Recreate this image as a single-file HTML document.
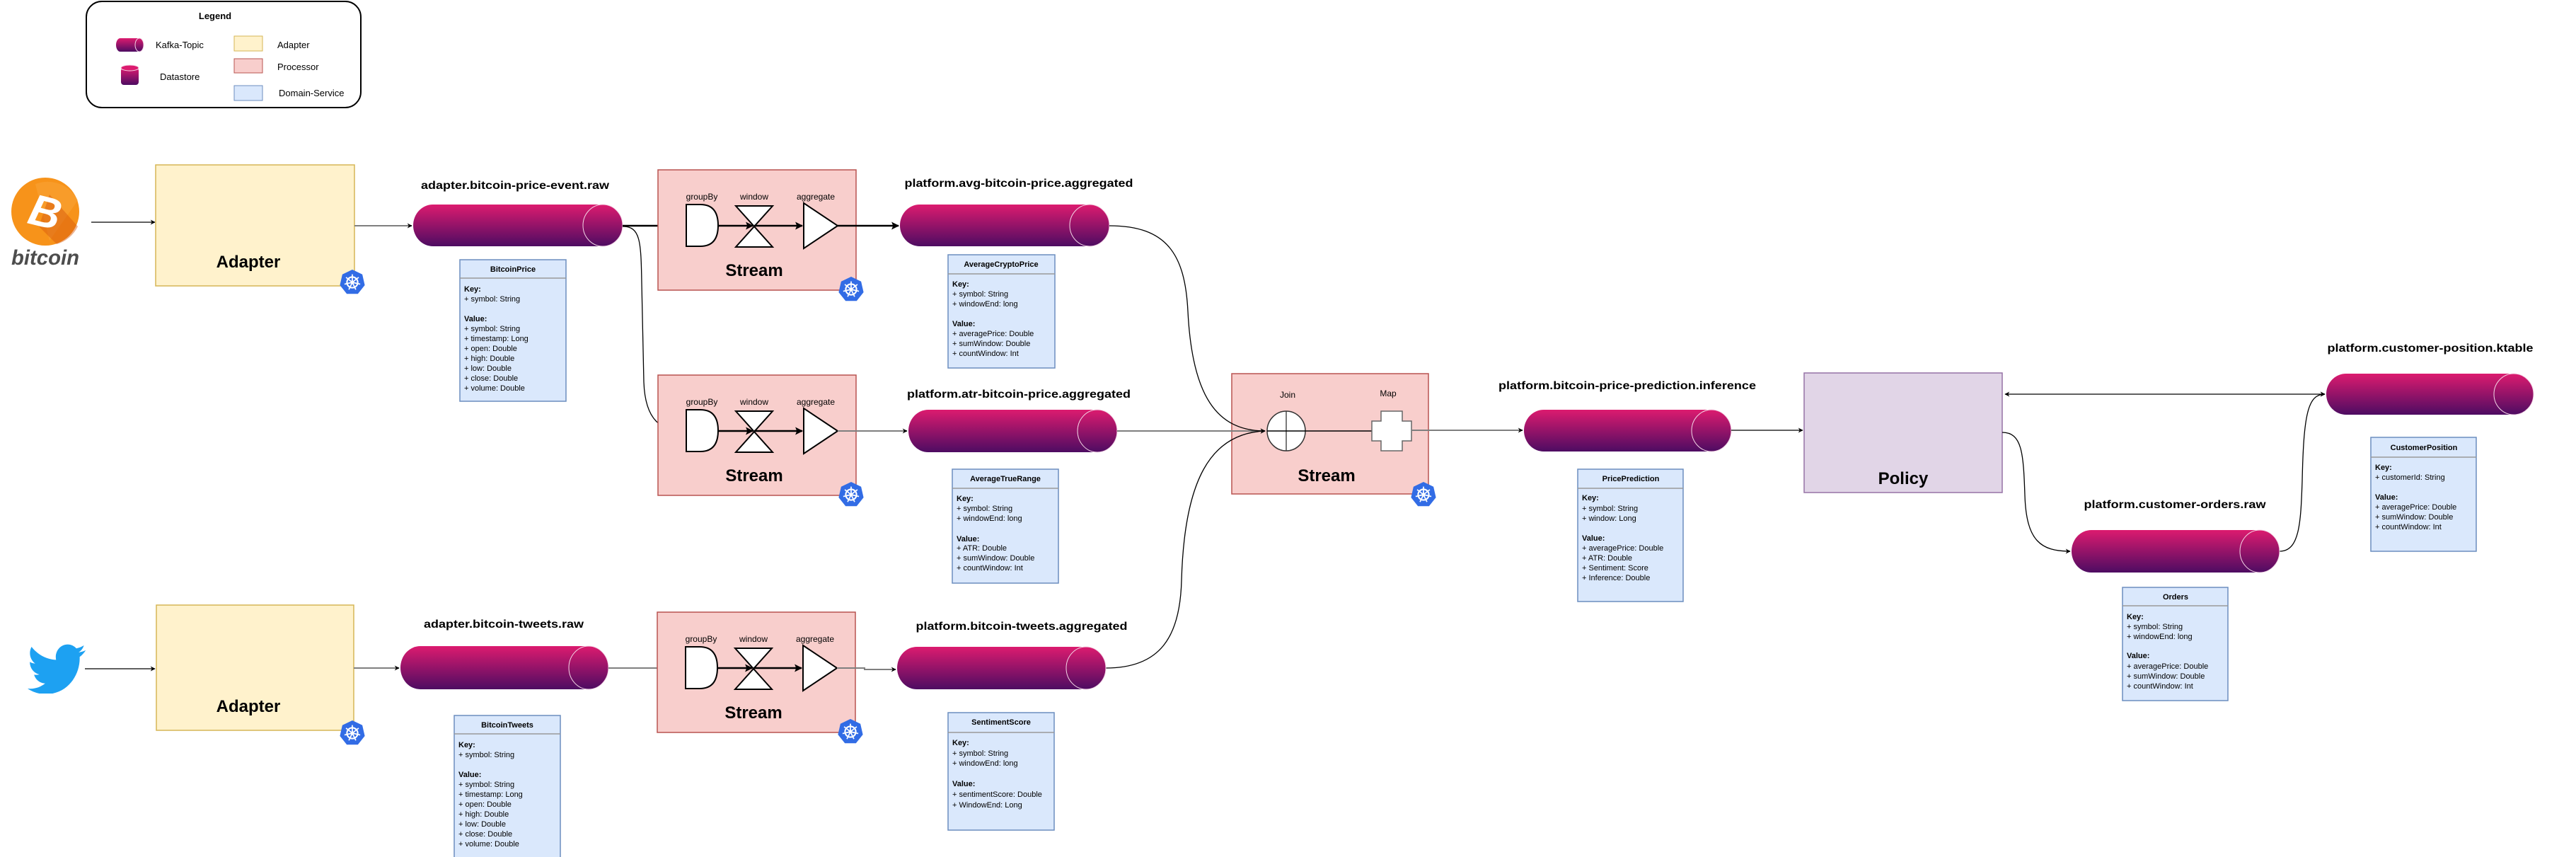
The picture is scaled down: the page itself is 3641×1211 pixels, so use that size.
<!DOCTYPE html>
<html><head><meta charset="utf-8"><style>
html,body{margin:0;padding:0;background:#fff;}
svg{display:block;font-family:"Liberation Sans",Arial,sans-serif;}
.lbl{font-size:16px;font-weight:bold;text-anchor:middle;fill:#000;}
.sm{font-size:12px;text-anchor:middle;fill:#000;}
.big{font-size:24px;font-weight:bold;text-anchor:middle;fill:#000;}
.bt{font-size:11px;fill:#000;}
.bh{font-size:11px;font-weight:bold;text-anchor:middle;fill:#000;}
.ent{fill:#dae8fc;stroke:#6c8ebf;stroke-width:1.5;}
.sep{stroke:#999;stroke-width:1.5;}
.cyl{fill:url(#tg);}
.cap{fill:none;stroke:#f4d6e6;stroke-width:1;}
.gate{fill:#fff;stroke:#000;stroke-width:2;}
.th{stroke:#000;stroke-width:2.5;fill:none;}
.gr{stroke:#7f7f7f;stroke-width:2;fill:none;}
.tn{stroke:#000;stroke-width:1.3;fill:none;}
</style></head><body>
<svg width="3641" height="1211" viewBox="0 0 3641 1211" xmlns="http://www.w3.org/2000/svg">
<defs>
<linearGradient id="tg" x1="0" y1="0" x2="0" y2="1"><stop offset="0" stop-color="#dc1b6f"/><stop offset="1" stop-color="#4d0c62"/></linearGradient>
<marker id="ar" viewBox="0 0 10 10" refX="9" refY="5" markerWidth="7" markerHeight="7" markerUnits="userSpaceOnUse" orient="auto-start-reverse"><path d="M0,0 L10,5 L0,10 L3,5 Z" fill="#000"/></marker>
<marker id="arb" viewBox="0 0 10 10" refX="9" refY="5" markerWidth="11" markerHeight="11" markerUnits="userSpaceOnUse" orient="auto"><path d="M0,0 L10,5 L0,10 L2,5 Z" fill="#000"/></marker>
<symbol id="k8s" viewBox="-20 -20 40 40">
<polygon points="0,-19 14.85,-11.85 18.52,4.23 8.24,17.12 -8.24,17.12 -18.52,4.23 -14.85,-11.85" fill="#326ce5"/>
<circle r="8" fill="none" stroke="#fff" stroke-width="2.2"/>
<circle r="2.6" fill="#fff"/>
<g stroke="#fff" stroke-width="1.8">
<line x1="0" y1="0" x2="0" y2="-12"/><line x1="0" y1="0" x2="9.4" y2="-7.5"/><line x1="0" y1="0" x2="11.7" y2="2.7"/><line x1="0" y1="0" x2="5.2" y2="10.8"/><line x1="0" y1="0" x2="-5.2" y2="10.8"/><line x1="0" y1="0" x2="-11.7" y2="2.7"/><line x1="0" y1="0" x2="-9.4" y2="-7.5"/>
</g>
</symbol>
<g id="gates">
<rect x="930" y="240" width="280" height="170" fill="#f8cecc" stroke="#b85450" stroke-width="1.5"/>
<text class="sm" x="992" y="282">groupBy</text>
<text class="sm" x="1066" y="282">window</text>
<text class="sm" x="1153" y="282">aggregate</text>
<path class="gate" d="M970,289 H990 Q1015,289 1015,318.5 Q1015,348 990,348 H970 Z"/>
<path class="gate" d="M1040,291 H1092 L1040,349 H1092 Z"/>
<path class="gate" d="M1136,287 L1184,319 L1136,351 Z"/>
<line class="th" x1="1015" y1="319" x2="1064" y2="319" marker-end="url(#arb)"/>
<line class="th" x1="1066" y1="319" x2="1134" y2="319" marker-end="url(#arb)"/>
<text class="big" x="1066" y="390">Stream</text>
<use href="#k8s" x="1184" y="389" width="38" height="40"/>
</g>
</defs>

<!-- Legend -->
<rect x="122" y="2" width="388" height="150" rx="22" fill="#fff" stroke="#000" stroke-width="2"/>
<text x="304" y="27" font-size="13" font-weight="bold" text-anchor="middle">Legend</text>
<path class="cyl" d="M170,54 H197 A6 9.5 0 0 1 197,73 H170 A6 9.5 0 0 1 170,54 Z"/>
<ellipse class="cap" cx="197" cy="63.5" rx="6" ry="9.5"/>
<text x="220" y="68" font-size="13">Kafka-Topic</text>
<rect x="171" y="96" width="25" height="24" rx="4" fill="url(#tg)"/>
<ellipse cx="183.5" cy="96" rx="12.5" ry="4" fill="#dc1b6f" stroke="#f4d6e6"/>
<text x="226" y="113" font-size="13">Datastore</text>
<rect x="331" y="51" width="40" height="21" fill="#fff2cc" stroke="#d6b656"/>
<text x="392" y="68" font-size="13">Adapter</text>
<rect x="331" y="83" width="40" height="20" fill="#f8cecc" stroke="#b85450"/>
<text x="392" y="99" font-size="13">Processor</text>
<rect x="331" y="121" width="40" height="21" fill="#dae8fc" stroke="#6c8ebf"/>
<text x="394" y="136" font-size="13">Domain-Service</text>

<!-- Bitcoin logo -->
<circle cx="64" cy="299" r="48" fill="#f7931a"/>
<path d="M50,260 A48 48 0 0 1 110,283 L70,340 Z" fill="#f9a63a" opacity="0.5"/>
<path d="M70,275 L110,320 A48 48 0 0 1 80,345 L55,320 Z" fill="#d4570a" opacity="0.45"/>
<text x="64" y="321" font-size="62" font-weight="bold" font-style="italic" fill="#fff" text-anchor="middle" transform="rotate(14 64 299)">B</text>
<text x="64" y="374" font-size="30" font-weight="bold" font-style="italic" fill="#4d4d4d" text-anchor="middle" textLength="96" lengthAdjust="spacingAndGlyphs">bitcoin</text>
<line class="tn" x1="129" y1="314" x2="219" y2="314" marker-end="url(#ar)"/>

<!-- Adapter 1 -->
<rect x="220" y="233" width="281" height="171" fill="#fff2cc" stroke="#d6b656" stroke-width="1.5"/>
<text class="big" x="351" y="378">Adapter</text>
<use href="#k8s" x="479" y="379" width="38" height="40"/>
<line class="gr" x1="501" y1="319" x2="582" y2="319" marker-end="url(#ar)"/>

<!-- Topic 1 -->
<text class="lbl" x="728" y="267" textLength="266" lengthAdjust="spacingAndGlyphs">adapter.bitcoin-price-event.raw</text>
<path class="cyl" d="M612,289 H852 A28 29.5 0 0 1 852,348 H612 A28 29.5 0 0 1 612,289 Z"/>
<ellipse class="cap" cx="852" cy="318.5" rx="28" ry="29.5"/>

<!-- BitcoinPrice -->
<rect class="ent" x="650" y="367" width="150" height="200"/>
<line class="sep" x1="650" y1="393" x2="800" y2="393"/>
<text class="bh" x="725" y="384">BitcoinPrice</text>
<g class="bt">
<text x="656" y="412" font-weight="bold">Key:</text><text x="656" y="426">+ symbol: String</text>
<text x="656" y="454" font-weight="bold">Value:</text><text x="656" y="468">+ symbol: String</text><text x="656" y="482">+ timestamp: Long</text><text x="656" y="496">+ open: Double</text><text x="656" y="510">+ high: Double</text><text x="656" y="524">+ low: Double</text><text x="656" y="538">+ close: Double</text><text x="656" y="552">+ volume: Double</text>
</g>

<!-- Stream 1 -->
<line class="th" x1="880" y1="319" x2="968" y2="319" marker-end="url(#arb)"/>
<use href="#gates"/>
<line class="th" x1="1184" y1="319" x2="1270" y2="319" marker-end="url(#arb)"/>

<!-- curve to stream 2 -->
<path class="tn" d="M880,320 C905,320 906,340 907,400 L910,540 C912,595 935,609 968,609" marker-end="url(#ar)"/>
<!-- Stream 2 -->
<use href="#gates" transform="translate(0,290)"/>
<line class="gr" x1="1184" y1="609" x2="1282" y2="609" marker-end="url(#ar)"/>

<!-- Topic 2 -->
<text class="lbl" x="1440" y="264" textLength="323" lengthAdjust="spacingAndGlyphs">platform.avg-bitcoin-price.aggregated</text>
<path class="cyl" d="M1300,289 H1540 A28 29.5 0 0 1 1540,348 H1300 A28 29.5 0 0 1 1300,289 Z"/>
<ellipse class="cap" cx="1540" cy="318.5" rx="28" ry="29.5"/>
<rect class="ent" x="1340" y="360" width="151" height="160"/>
<line class="sep" x1="1340" y1="387" x2="1491" y2="387"/>
<text class="bh" x="1415" y="377">AverageCryptoPrice</text>
<g class="bt">
<text x="1346" y="405" font-weight="bold">Key:</text><text x="1346" y="419">+ symbol: String</text><text x="1346" y="433">+ windowEnd: long</text>
<text x="1346" y="461" font-weight="bold">Value:</text><text x="1346" y="475">+ averagePrice: Double</text><text x="1346" y="489">+ sumWindow: Double</text><text x="1346" y="503">+ countWindow: Int</text>
</g>

<!-- Topic 3 -->
<text class="lbl" x="1440" y="562" textLength="316" lengthAdjust="spacingAndGlyphs">platform.atr-bitcoin-price.aggregated</text>
<path class="cyl" d="M1312,579 H1551 A28 30 0 0 1 1551,639 H1312 A28 30 0 0 1 1312,579 Z"/>
<ellipse class="cap" cx="1551" cy="609" rx="28" ry="30"/>
<rect class="ent" x="1346" y="663" width="150" height="161"/>
<line class="sep" x1="1346" y1="690" x2="1496" y2="690"/>
<text class="bh" x="1421" y="680">AverageTrueRange</text>
<g class="bt">
<text x="1352" y="708" font-weight="bold">Key:</text><text x="1352" y="722">+ symbol: String</text><text x="1352" y="736">+ windowEnd: long</text>
<text x="1352" y="765" font-weight="bold">Value:</text><text x="1352" y="778">+ ATR: Double</text><text x="1352" y="792">+ sumWindow: Double</text><text x="1352" y="806">+ countWindow: Int</text>
</g>

<!-- Stream 3 (join) -->
<rect x="1741" y="528" width="278" height="170" fill="#f8cecc" stroke="#b85450" stroke-width="1.5"/>
<text class="sm" x="1820" y="562">Join</text>
<text class="sm" x="1962" y="560">Map</text>
<line class="gr" x1="1579" y1="609" x2="1788" y2="609" marker-end="url(#ar)"/>
<path class="tn" d="M1568,319 C1650,319 1675,360 1679,440 C1685,560 1720,609 1788,609" marker-end="url(#ar)"/>
<path class="tn" d="M1563,944 C1640,944 1668,900 1670,820 C1674,680 1710,612 1788,609" marker-end="url(#ar)"/>
<ellipse cx="1818" cy="609" rx="27" ry="28" fill="#fff" stroke="#333" stroke-width="1.5"/>
<line x1="1818" y1="581" x2="1818" y2="637" stroke="#333" stroke-width="1.3"/>
<line x1="1791" y1="609" x2="1940" y2="609" stroke="#000" stroke-width="1.5"/>
<path d="M1952,581 H1982 V595 H1995 V623 H1982 V637 H1952 V623 H1939 V595 H1952 Z" fill="#fff" stroke="#666" stroke-width="1.5"/>
<text class="big" x="1875" y="680">Stream</text>
<use href="#k8s" x="1993" y="679" width="38" height="40"/>
<line class="gr" x1="1995" y1="608" x2="2152" y2="608" marker-end="url(#ar)"/>

<!-- Topic 5 -->
<text class="lbl" x="2300" y="550" textLength="364" lengthAdjust="spacingAndGlyphs">platform.bitcoin-price-prediction.inference</text>
<path class="cyl" d="M2182,579 H2419 A28 29.5 0 0 1 2419,638 H2182 A28 29.5 0 0 1 2182,579 Z"/>
<ellipse class="cap" cx="2419" cy="608.5" rx="28" ry="29.5"/>
<rect class="ent" x="2230" y="663" width="149" height="187"/>
<line class="sep" x1="2230" y1="690" x2="2379" y2="690"/>
<text class="bh" x="2305" y="680">PricePrediction</text>
<g class="bt">
<text x="2236" y="707" font-weight="bold">Key:</text><text x="2236" y="722">+ symbol: String</text><text x="2236" y="736">+ window: Long</text>
<text x="2236" y="764" font-weight="bold">Value:</text><text x="2236" y="778">+ averagePrice: Double</text><text x="2236" y="792">+ ATR: Double</text><text x="2236" y="806">+ Sentiment: Score</text><text x="2236" y="820">+ Inference: Double</text>
</g>
<line class="tn" x1="2447" y1="608" x2="2548" y2="608" marker-end="url(#ar)"/>

<!-- Policy -->
<rect x="2550" y="527" width="280" height="169" fill="#e1d5e7" stroke="#9673a6" stroke-width="1.5"/>
<text class="big" x="2690" y="684" font-size="26">Policy</text>
<line class="tn" x1="2834" y1="557" x2="3286" y2="557" marker-start="url(#ar)" marker-end="url(#ar)"/>
<path class="tn" d="M2830,611 C2858,611 2860,640 2862,700 C2864,765 2885,779 2926,779" marker-end="url(#ar)"/>
<path class="tn" d="M3222,779 C3250,779 3252,740 3254,680 C3256,585 3262,557 3286,557" marker-end="url(#ar)"/>

<!-- Orders -->
<text class="lbl" x="3074" y="718" textLength="257" lengthAdjust="spacingAndGlyphs">platform.customer-orders.raw</text>
<path class="cyl" d="M2956,749 H3194 A28 30 0 0 1 3194,809 H2956 A28 30 0 0 1 2956,749 Z"/>
<ellipse class="cap" cx="3194" cy="779" rx="28" ry="30"/>
<rect class="ent" x="3000" y="830" width="149" height="160"/>
<line class="sep" x1="3000" y1="856" x2="3149" y2="856"/>
<text class="bh" x="3075" y="847">Orders</text>
<g class="bt">
<text x="3006" y="875" font-weight="bold">Key:</text><text x="3006" y="889">+ symbol: String</text><text x="3006" y="903">+ windowEnd: long</text>
<text x="3006" y="930" font-weight="bold">Value:</text><text x="3006" y="945">+ averagePrice: Double</text><text x="3006" y="959">+ sumWindow: Double</text><text x="3006" y="973">+ countWindow: Int</text>
</g>

<!-- Customer position -->
<text class="lbl" x="3435" y="497" textLength="291" lengthAdjust="spacingAndGlyphs">platform.customer-position.ktable</text>
<path class="cyl" d="M3316,528 H3553 A28 29 0 0 1 3553,586 H3316 A28 29 0 0 1 3316,528 Z"/>
<ellipse class="cap" cx="3553" cy="557" rx="28" ry="29"/>
<rect class="ent" x="3351" y="618" width="149" height="161"/>
<line class="sep" x1="3351" y1="646" x2="3500" y2="646"/>
<text class="bh" x="3426" y="636">CustomerPosition</text>
<g class="bt">
<text x="3357" y="664" font-weight="bold">Key:</text><text x="3357" y="678">+ customerId: String</text>
<text x="3357" y="706" font-weight="bold">Value:</text><text x="3357" y="720">+ averagePrice: Double</text><text x="3357" y="734">+ sumWindow: Double</text><text x="3357" y="748">+ countWindow: Int</text>
</g>

<!-- Lower row: Twitter -->
<svg x="39" y="908" width="82" height="72" viewBox="0 1.5 24 20" preserveAspectRatio="none">
<path fill="#1da1f2" d="M23.954 4.569c-.885.389-1.83.654-2.825.775 1.014-.611 1.794-1.574 2.163-2.723-.951.555-2.005.959-3.127 1.184-.896-.959-2.173-1.559-3.591-1.559-2.717 0-4.92 2.203-4.92 4.917 0 .39.045.765.127 1.124C7.691 8.094 4.066 6.13 1.64 3.161c-.427.722-.666 1.561-.666 2.475 0 1.71.87 3.213 2.188 4.096-.807-.026-1.566-.248-2.228-.616v.061c0 2.385 1.693 4.374 3.946 4.827-.413.111-.849.171-1.296.171-.314 0-.615-.03-.916-.086.631 1.953 2.445 3.377 4.604 3.417-1.68 1.319-3.809 2.105-6.102 2.105-.39 0-.779-.023-1.17-.067 2.189 1.394 4.768 2.209 7.557 2.209 9.054 0 13.999-7.496 13.999-13.986 0-.209 0-.42-.015-.63.961-.689 1.8-1.56 2.46-2.548l-.047-.02z"/>
</svg>
<line class="tn" x1="120" y1="945" x2="219" y2="945" marker-end="url(#ar)"/>
<rect x="221" y="855" width="279" height="177" fill="#fff2cc" stroke="#d6b656" stroke-width="1.5"/>
<text class="big" x="351" y="1006">Adapter</text>
<use href="#k8s" x="479" y="1016" width="38" height="40"/>
<line class="gr" x1="500" y1="944" x2="564" y2="944" marker-end="url(#ar)"/>

<text class="lbl" x="712" y="887" textLength="226" lengthAdjust="spacingAndGlyphs">adapter.bitcoin-tweets.raw</text>
<path class="cyl" d="M594,913 H832 A28 30.5 0 0 1 832,974 H594 A28 30.5 0 0 1 594,913 Z"/>
<ellipse class="cap" cx="832" cy="943.5" rx="28" ry="30.5"/>
<rect class="ent" x="642" y="1011" width="150" height="205"/>
<line class="sep" x1="642" y1="1037" x2="792" y2="1037"/>
<text class="bh" x="717" y="1028">BitcoinTweets</text>
<g class="bt">
<text x="648" y="1056" font-weight="bold">Key:</text><text x="648" y="1070">+ symbol: String</text>
<text x="648" y="1098" font-weight="bold">Value:</text><text x="648" y="1112">+ symbol: String</text><text x="648" y="1126">+ timestamp: Long</text><text x="648" y="1140">+ open: Double</text><text x="648" y="1154">+ high: Double</text><text x="648" y="1168">+ low: Double</text><text x="648" y="1182">+ close: Double</text><text x="648" y="1196">+ volume: Double</text>
</g>

<line class="gr" x1="860" y1="944" x2="968" y2="944" marker-end="url(#ar)"/>
<use href="#gates" transform="translate(-1,625)"/>
<path class="gr" d="M1183,944 H1222 V946 H1266" marker-end="url(#ar)"/>

<text class="lbl" x="1444" y="890" textLength="299" lengthAdjust="spacingAndGlyphs">platform.bitcoin-tweets.aggregated</text>
<path class="cyl" d="M1296,914 H1535 A28 30 0 0 1 1535,974 H1296 A28 30 0 0 1 1296,914 Z"/>
<ellipse class="cap" cx="1535" cy="944" rx="28" ry="30"/>
<rect class="ent" x="1340" y="1007" width="150" height="166"/>
<line class="sep" x1="1340" y1="1035" x2="1490" y2="1035"/>
<text class="bh" x="1415" y="1024">SentimentScore</text>
<g class="bt">
<text x="1346" y="1053" font-weight="bold">Key:</text><text x="1346" y="1068">+ symbol: String</text><text x="1346" y="1082">+ windowEnd: long</text>
<text x="1346" y="1111" font-weight="bold">Value:</text><text x="1346" y="1126">+ sentimentScore: Double</text><text x="1346" y="1141">+ WindowEnd: Long</text>
</g>
</svg>
</body></html>
